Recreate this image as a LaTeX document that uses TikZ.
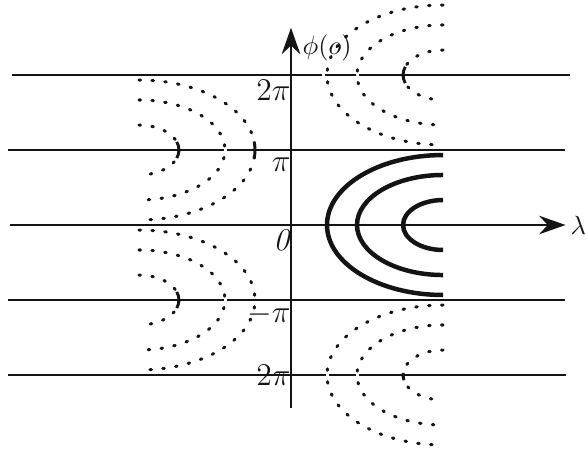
\documentclass[tikz,border=0pt]{standalone}
\usepackage{amsmath,amssymb}
\usetikzlibrary{arrows.meta}
\definecolor{inkcol}{gray}{0.08}
\tikzset{
  axlab/.style={font=\large,text=inkcol,inner sep=0.5pt},
  hline/.style={draw=inkcol,line width=1.1pt},
  axisln/.style={draw=inkcol,line width=1.1pt,-{Stealth[length=10pt,width=7pt]}},
  solidorb/.style={draw=inkcol,line width=1.7pt},
  dotorb/.style={draw=inkcol,line width=1.15pt,line cap=round,dash pattern=on 0.6pt off 4.3pt},
  vtick/.style={draw=inkcol,line width=1.1pt},
}
\begin{document}
\begin{tikzpicture}[x=1cm,y=1cm]
  \useasboundingbox (-3.88,-2.987) rectangle (3.933,3.0);
  % lines phi = k pi
  \foreach \k/\xl/\xr in {2/-3.72/3.72,1/-3.77/3.65,-1/-3.77/3.65,-2/-3.77/3.67}
    \draw[hline] (\xl,\k) -- (\xr,\k);
  \draw[axisln] (-3.75,0) -- (3.66,0);
  \draw[axisln] (0,-2.44) -- (0,2.63);
  % breaks in the lines
  \foreach \x/\k in {-0.88/1,-0.88/-1,0.43/2,0.88/2,0.48/-2,0.88/-2}
    \fill[white] (\x-0.02,\k-0.035) rectangle (\x+0.02,\k+0.035);
  % orbits
  \foreach \w/\h in {1.547/0.933,1.147/0.667,0.533/0.333}{
    \draw[solidorb] (2.027,\h) arc[start angle=90,end angle=270,x radius=\w,y radius=\h];
    \draw[dotorb] (2.027,2+\h) arc[start angle=90,end angle=270,x radius=\w,y radius=\h];
    \draw[dotorb] (2.027,-2+\h) arc[start angle=90,end angle=270,x radius=\w,y radius=\h];
    \draw[dotorb] (-2.027,1+\h) arc[start angle=90,end angle=-90,x radius=\w,y radius=\h];
    \draw[dotorb] (-2.027,-1+\h) arc[start angle=90,end angle=-90,x radius=\w,y radius=\h];
  }
  % ticks at the vertices
  \draw[vtick] (-2.027,1) ++(-19:0.533 and 0.333) arc[start angle=-19,end angle=19,x radius=0.533,y radius=0.333];
  \draw[vtick] (-2.027,-1) ++(-19:0.533 and 0.333) arc[start angle=-19,end angle=19,x radius=0.533,y radius=0.333];
  \draw[vtick] (-2.027,1) ++(-7:1.547 and 0.933) arc[start angle=-7,end angle=7,x radius=1.547,y radius=0.933];
  \draw[vtick] (2.027,2) ++(199:0.533 and 0.333) arc[start angle=199,end angle=161,x radius=0.533,y radius=0.333];
  \draw[vtick] (2.027,-2) ++(192:0.533 and 0.333) arc[start angle=192,end angle=175,x radius=0.533,y radius=0.333];
  % labels
  \node[axlab,anchor=east] (lbltwopi) at (0.02,1.8) {$2\pi$};
  \node[axlab,anchor=east] (lblpi) at (0.02,0.8) {$\pi$};
  \node[axlab,anchor=east] (lblzero) at (0.02,-0.2) {\textit{0}};
  \node[axlab,anchor=east] (lblmpi) at (0.02,-1.2) {$-\pi$};
  \node[axlab,anchor=east] (lblmtwopi) at (0.02,-2.0) {$2\pi$};
  \node[axlab,font=\normalsize,anchor=west] (lblphi) at (0.13,2.36) {$\phi(o)$};
  \node[axlab,font=\normalsize,anchor=west,inner sep=0pt] (lbllam) at (3.72,0) {$\lambda$};
\end{tikzpicture}
\end{document}
